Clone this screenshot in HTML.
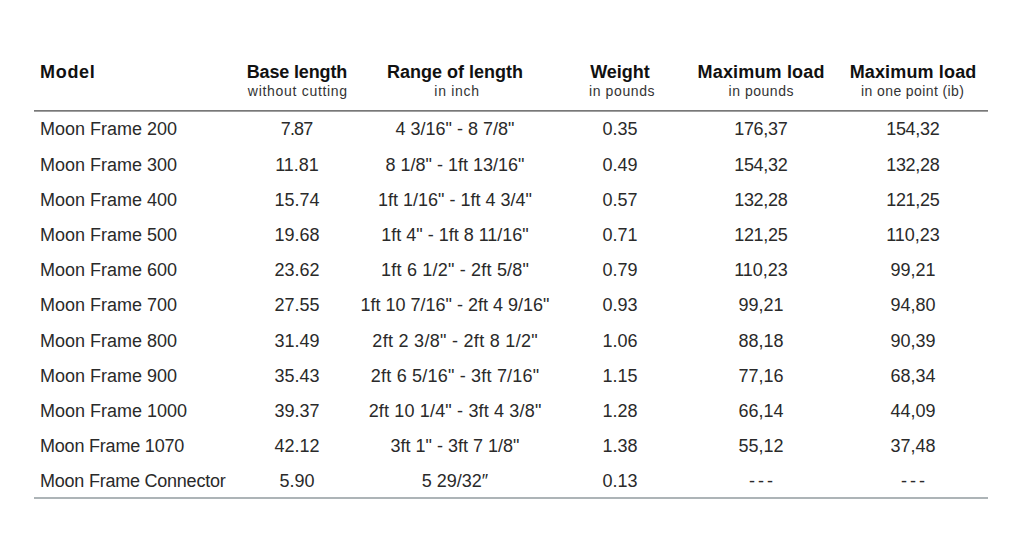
<!DOCTYPE html>
<html><head><meta charset="utf-8"><title>Moon Frame</title>
<style>
html,body{margin:0;padding:0;background:#fff;}
body{width:1024px;height:553px;position:relative;overflow:hidden;font-family:"Liberation Sans",Arial,sans-serif;color:#2a2a2a;}
.c{position:absolute;white-space:nowrap;font-size:18px;line-height:20px;height:20px;}
.l{text-align:left;}
.m{text-align:center;width:200px;}
.h{font-weight:bold;color:#111;}
.s{font-size:14px;line-height:16px;height:16px;color:#333;}
.hr1{position:absolute;left:34px;width:954px;top:110px;height:1px;background:#787878;}
.hr1b{position:absolute;left:34px;width:954px;top:111px;height:1px;background:#a0a0a0;}
.hr2{position:absolute;left:34px;width:954px;top:497px;height:2px;background:#adb4b7;}
</style></head><body>

<div class="c l h" style="left:40px;top:62px;letter-spacing:0.7px">Model</div>
<div class="c m h" style="left:196.925px;top:62px;letter-spacing:-0.15px">Base length</div>
<div class="c m s" style="left:197.85px;top:83px;letter-spacing:0.7px">without cutting</div>
<div class="c m h" style="left:355.0px;top:62px;letter-spacing:0px">Range of length</div>
<div class="c m s" style="left:357.05px;top:83px;letter-spacing:0.7px">in inch</div>
<div class="c m h" style="left:520.0px;top:62px;letter-spacing:0px">Weight</div>
<div class="c m s" style="left:522.0999999999999px;top:83px;letter-spacing:0.6px">in pounds</div>
<div class="c m h" style="left:661.085px;top:62px;letter-spacing:0.17px">Maximum load</div>
<div class="c m s" style="left:661.265px;top:83px;letter-spacing:0.53px">in pounds</div>
<div class="c m h" style="left:813.075px;top:62px;letter-spacing:0.15px">Maximum load</div>
<div class="c m s" style="left:812.7px;top:83px;letter-spacing:0.4px">in one point (ib)</div>
<div class="hr1"></div><div class="hr1b"></div>
<div class="c l" style="left:40px;top:119.45px">Moon Frame 200</div>
<div class="c m" style="left:196.55px;top:119.45px;letter-spacing:-0.9px">7.87</div>
<div class="c m" style="left:355px;top:119.45px">4 3/16&quot; - 8 7/8&quot;</div>
<div class="c m" style="left:520px;top:119.45px">0.35</div>
<div class="c m" style="left:660.85px;top:119.45px;letter-spacing:-0.3px">176,37</div>
<div class="c m" style="left:812.85px;top:119.45px;letter-spacing:-0.3px">154,32</div>
<div class="c l" style="left:40px;top:154.65px">Moon Frame 300</div>
<div class="c m" style="left:197px;top:154.65px">11.81</div>
<div class="c m" style="left:355px;top:154.65px">8 1/8&quot; - 1ft 13/16&quot;</div>
<div class="c m" style="left:520px;top:154.65px">0.49</div>
<div class="c m" style="left:660.85px;top:154.65px;letter-spacing:-0.3px">154,32</div>
<div class="c m" style="left:812.85px;top:154.65px;letter-spacing:-0.3px">132,28</div>
<div class="c l" style="left:40px;top:189.85px">Moon Frame 400</div>
<div class="c m" style="left:197px;top:189.85px">15.74</div>
<div class="c m" style="left:355px;top:189.85px">1ft 1/16&quot; - 1ft 4 3/4&quot;</div>
<div class="c m" style="left:520px;top:189.85px">0.57</div>
<div class="c m" style="left:660.85px;top:189.85px;letter-spacing:-0.3px">132,28</div>
<div class="c m" style="left:812.85px;top:189.85px;letter-spacing:-0.3px">121,25</div>
<div class="c l" style="left:40px;top:225.05px">Moon Frame 500</div>
<div class="c m" style="left:197px;top:225.05px">19.68</div>
<div class="c m" style="left:355px;top:225.05px">1ft 4&quot; - 1ft 8 11/16&quot;</div>
<div class="c m" style="left:520px;top:225.05px">0.71</div>
<div class="c m" style="left:660.85px;top:225.05px;letter-spacing:-0.3px">121,25</div>
<div class="c m" style="left:813px;top:225.05px">110,23</div>
<div class="c l" style="left:40px;top:260.25px">Moon Frame 600</div>
<div class="c m" style="left:197px;top:260.25px">23.62</div>
<div class="c m" style="left:355.1px;top:260.25px;letter-spacing:0.2px">1ft 6 1/2&quot; - 2ft 5/8&quot;</div>
<div class="c m" style="left:520px;top:260.25px">0.79</div>
<div class="c m" style="left:661px;top:260.25px">110,23</div>
<div class="c m" style="left:813px;top:260.25px">99,21</div>
<div class="c l" style="left:40px;top:295.45px">Moon Frame 700</div>
<div class="c m" style="left:197px;top:295.45px">27.55</div>
<div class="c m" style="left:355px;top:295.45px">1ft 10 7/16&quot; - 2ft 4 9/16&quot;</div>
<div class="c m" style="left:520px;top:295.45px">0.93</div>
<div class="c m" style="left:661px;top:295.45px">99,21</div>
<div class="c m" style="left:813px;top:295.45px">94,80</div>
<div class="c l" style="left:40px;top:330.65px">Moon Frame 800</div>
<div class="c m" style="left:197px;top:330.65px">31.49</div>
<div class="c m" style="left:355.145px;top:330.65px;letter-spacing:0.29px">2ft 2 3/8&quot; - 2ft 8 1/2&quot;</div>
<div class="c m" style="left:520px;top:330.65px">1.06</div>
<div class="c m" style="left:661px;top:330.65px">88,18</div>
<div class="c m" style="left:813px;top:330.65px">90,39</div>
<div class="c l" style="left:40px;top:365.85px">Moon Frame 900</div>
<div class="c m" style="left:197px;top:365.85px">35.43</div>
<div class="c m" style="left:355.1px;top:365.85px;letter-spacing:0.2px">2ft 6 5/16&quot; - 3ft 7/16&quot;</div>
<div class="c m" style="left:520px;top:365.85px">1.15</div>
<div class="c m" style="left:661px;top:365.85px">77,16</div>
<div class="c m" style="left:813px;top:365.85px">68,34</div>
<div class="c l" style="left:40px;top:401.05px">Moon Frame 1000</div>
<div class="c m" style="left:197px;top:401.05px">39.37</div>
<div class="c m" style="left:355.08px;top:401.05px;letter-spacing:0.16px">2ft 10 1/4&quot; - 3ft 4 3/8&quot;</div>
<div class="c m" style="left:520px;top:401.05px">1.28</div>
<div class="c m" style="left:661px;top:401.05px">66,14</div>
<div class="c m" style="left:813px;top:401.05px">44,09</div>
<div class="c l" style="left:40px;top:436.25px;letter-spacing:-0.2px">Moon Frame 1070</div>
<div class="c m" style="left:197px;top:436.25px">42.12</div>
<div class="c m" style="left:355px;top:436.25px">3ft 1&quot; - 3ft 7 1/8&quot;</div>
<div class="c m" style="left:520px;top:436.25px">1.38</div>
<div class="c m" style="left:661px;top:436.25px">55,12</div>
<div class="c m" style="left:813px;top:436.25px">37,48</div>
<div class="c l" style="left:40px;top:471.45px;letter-spacing:-0.23px">Moon Frame Connector</div>
<div class="c m" style="left:197px;top:471.45px">5.90</div>
<div class="c m" style="left:355px;top:471.45px">5 29/32″</div>
<div class="c m" style="left:520px;top:471.45px">0.13</div>
<div class="c m" style="left:662.5px;top:471.45px;letter-spacing:3px">---</div>
<div class="c m" style="left:814.5px;top:471.45px;letter-spacing:3px">---</div>
<div class="hr2"></div>
</body></html>
